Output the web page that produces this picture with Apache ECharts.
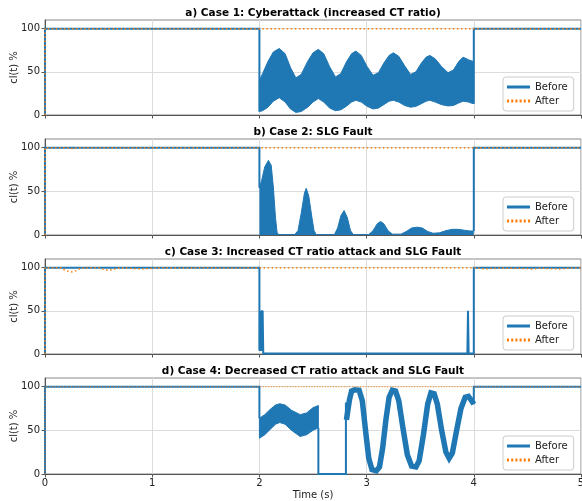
<!DOCTYPE html>
<html><head><meta charset="utf-8">
<script src="https://cdn.jsdelivr.net/npm/echarts@6/dist/echarts.min.js"></script>
<style>html,body{margin:0;padding:0;background:#fff}#c{width:582px;height:501px}</style>
</head><body><div id="c"></div>
<script>
// ---------- data ----------
const xTicks = [0, 1, 2, 3, 4, 5];
const yTicks = [0, 50, 100];
const panelTitles = [
  'a) Case 1: Cyberattack (increased CT ratio)',
  'b) Case 2: SLG Fault',
  'c) Case 3: Increased CT ratio attack and SLG Fault',
  'd) Case 4: Decreased CT ratio attack and SLG Fault'
];
const legendNames = ['Before', 'After'];
const yLabel = 'cl(t) %';
const xLabel = 'Time (s)';

// Case 1
const aPre_t = [0, 0, 2, 2];
const aPre_v = [0, 100, 100, 4];
const aBand_t  = [2.000, 2.030, 2.080, 2.130, 2.185, 2.240, 2.290, 2.340, 2.390, 2.450, 2.500, 2.550, 2.600, 2.655, 2.710, 2.760, 2.810, 2.860, 2.900, 2.950, 3.005, 3.060, 3.110, 3.160, 3.210, 3.250, 3.300, 3.355, 3.410, 3.460, 3.510, 3.555, 3.590, 3.640, 3.700, 3.760, 3.810, 3.860, 3.900, 3.950, 3.995];
const aBand_hi = [40, 48, 62, 73, 77, 71, 55, 43, 47, 62, 72, 76, 71, 56, 44, 48, 61, 71, 74, 69, 56, 46, 49, 60, 69, 72, 68, 57, 47, 50, 60, 67, 69, 65, 56, 49, 52, 62, 67, 64, 62];
const aBand_lo = [4, 5, 9, 16, 20, 15, 7, 3, 4, 9, 15, 19, 15, 8, 5, 6, 10, 15, 17, 15, 10, 7, 8, 12, 16, 17, 15, 11, 9, 10, 13, 16, 17, 15, 12, 10.5, 11, 14, 16, 15, 13];
const aPost_t = [4, 4, 5];
const aPost_v = [13, 100, 100];
const aAfter_t = [0, 0, 5];
const aAfter_v = [0, 100, 100];

// Case 2
const bPre_t = [0, 0, 2, 2];
const bPre_v = [0, 100, 100, 54];
const bPulse_t = [2.000, 2.020, 2.050, 2.084, 2.110, 2.130, 2.150, 2.165, 2.180, 2.330, 2.360, 2.390, 2.420, 2.437, 2.460, 2.490, 2.510, 2.530, 2.700, 2.730, 2.760, 2.790, 2.820, 2.850, 2.875, 3.020, 3.060, 3.100, 3.130, 3.160, 3.200, 3.240, 3.320, 3.370, 3.420, 3.470, 3.520, 3.570, 3.620, 3.680, 3.740, 3.800, 3.850, 3.910, 3.960, 4.000];
const bPulse_v = [54, 62, 78, 85.5, 80, 55, 20, 3, 0.5, 0.5, 5, 25, 48, 53.5, 45, 20, 5, 0.5, 0.5, 8, 22, 28, 20, 5, 0.5, 0.5, 5, 13, 15.5, 13, 5, 1, 1, 4, 8, 9, 8, 4, 2, 2.5, 5, 6.5, 6.5, 5.5, 4.7, 4.5];
const bPost_t = [4, 4, 5];
const bPost_v = [4.5, 100, 100];
const bAfter_t = [0, 0, 0.2, 0.25, 0.3, 5];
const bAfter_v = [0, 100, 100, 99, 100, 100];

// Case 3
const cPre_t = [0, 0, 2, 2];
const cPre_v = [0, 100, 100, 4];
const cBand_t  = [2.000, 2.015, 2.030];
const cBand_hi = [47, 50, 50];
const cBand_lo = [4, 4, 4];
const cLow_t = [2.030, 2.036, 3.940, 3.946, 3.952, 4.000, 4.000, 5];
const cLow_v = [50, 0.5, 0.5, 50, 0.5, 0.5, 100, 100];
const cAfter_t = [0, 0, 0.15, 0.18, 0.22, 0.26, 0.30, 0.33, 0.50, 0.53, 0.58, 0.63, 0.67, 0.70, 0.82, 0.90, 0.98, 1.05, 1.30, 1.50, 1.70, 2.00, 4.00, 4.10, 4.25, 4.50, 4.55, 4.60, 4.80, 4.90, 5.00];
const cAfter_v = [0, 100, 100, 97.5, 95.5, 95, 97, 99.5, 100, 98.5, 97, 97.5, 99, 100, 99, 98.5, 99, 100, 99.5, 100, 99.5, 100, 100, 98.5, 99.5, 99, 98, 99.5, 98.5, 99.5, 100];

// Case 4
const dPre_t = [0, 0, 2, 2];
const dPre_v = [0, 100, 100, 64];
const dBand_t  = [2.00, 2.05, 2.10, 2.15, 2.19, 2.24, 2.30, 2.38, 2.44, 2.50, 2.55];
const dBand_hi = [64, 68, 74, 79, 80.5, 79, 73, 68, 70, 76, 78.5];
const dBand_lo = [41, 45, 51, 57, 59, 57, 50, 43, 45, 50, 53];
const dGap_t = [2.55, 2.55, 2.807, 2.807, 2.812];
const dGap_v = [53, 0, 0, 82, 62];
const dOsc_t = [2.812, 2.840, 2.860, 2.890, 2.930, 2.960, 2.990, 3.020, 3.050, 3.090, 3.120, 3.150, 3.180, 3.210, 3.240, 3.270, 3.300, 3.340, 3.380, 3.420, 3.460, 3.490, 3.530, 3.570, 3.600, 3.630, 3.660, 3.700, 3.740, 3.770, 3.800, 3.840, 3.880, 3.920, 3.950, 3.980, 4.000];
const dOsc_v = [62, 85, 95, 96.5, 96, 84, 50, 18, 5, 3.5, 8, 30, 62, 88, 96, 95, 84, 52, 22, 9, 8, 15, 45, 80, 93, 92, 80, 50, 25, 18, 24, 50, 75, 88, 89, 84, 80];
const dPost_t = [4, 4, 5];
const dPost_v = [80, 100, 100];
const dAfter_t = [0, 0, 5];
const dAfter_v = [0, 100, 100];

// ---------- build ----------
const BLUE = '#1f77b4', ORANGE = '#ff7f0e';
const FONT = 'DejaVu Sans';
const gridTops = [20, 139, 259, 378];
const gridHeights = [95, 96, 95, 96];
const legendTops = [77, 197, 316, 436];

const pairs = (ts, vs) => ts.map((t, i) => [t, vs[i]]);

function stepLine(k, ts, vs, width, z) {
  return { type: 'line', name: 'Before', xAxisIndex: k, yAxisIndex: k, data: pairs(ts, vs),
    symbol: 'none', z: z || 2, lineStyle: { color: BLUE, width: width || 2, join: 'miter' }, itemStyle: { color: BLUE } };
}
function areaLine(k, ts, vs) {
  return { type: 'line', name: 'Before', xAxisIndex: k, yAxisIndex: k, data: pairs(ts, vs),
    symbol: 'none', z: 2, lineStyle: { color: BLUE, width: 1 }, itemStyle: { color: BLUE },
    areaStyle: { color: BLUE, opacity: 1, origin: 'start' } };
}
function band(k, ts, lo, hi) {
  return { type: 'custom', name: 'Before', xAxisIndex: k, yAxisIndex: k, z: 2, clip: true,
    data: ts.map((t, i) => [t, lo[i], hi[i]]), encode: { x: 0, y: [1, 2] },
    renderItem: function (params, api) {
      if (params.dataIndex !== 0) return null;
      const pts = [];
      for (let i = 0; i < ts.length; i++) pts.push(api.coord([ts[i], hi[i]]));
      for (let i = ts.length - 1; i >= 0; i--) pts.push(api.coord([ts[i], lo[i]]));
      return { type: 'polygon', shape: { points: pts }, style: { fill: BLUE, stroke: BLUE, lineWidth: 1 } };
    } };
}
function afterLine(k, ts, vs, width) {
  const w = width || 1.5;
  return { type: 'line', name: 'After', xAxisIndex: k, yAxisIndex: k, data: pairs(ts, vs),
    symbol: 'none', z: 4, lineStyle: { color: ORANGE, width: w, type: [w, w * 1.7] }, itemStyle: { color: ORANGE } };
}

const series = [
  stepLine(0, aPre_t, aPre_v), band(0, aBand_t, aBand_lo, aBand_hi), stepLine(0, aPost_t, aPost_v), afterLine(0, aAfter_t, aAfter_v),
  stepLine(1, bPre_t, bPre_v), areaLine(1, bPulse_t, bPulse_v), stepLine(1, bPost_t, bPost_v), afterLine(1, bAfter_t, bAfter_v),
  stepLine(2, cPre_t, cPre_v), band(2, cBand_t, cBand_lo, cBand_hi), stepLine(2, cLow_t, cLow_v), afterLine(2, cAfter_t, cAfter_v),
  stepLine(3, dPre_t, dPre_v), band(3, dBand_t, dBand_lo, dBand_hi), stepLine(3, dGap_t, dGap_v), stepLine(3, dOsc_t, dOsc_v, 5.5), stepLine(3, dPost_t, dPost_v), afterLine(3, dAfter_t, dAfter_v, 1)
];

const grids = [], xAxes = [], yAxes = [], titles = [], legends = [];
const beforeIcon = 'path://M0,0H23V3H0Z';
const afterIcon = 'path://M0,0h2v3h-2zM4,0h2v3h-2zM8,0h2v3h-2zM12,0h2v3h-2zM16,0h2v3h-2zM20,0h2v3h-2z';
for (let k = 0; k < 4; k++) {
  grids.push({ left: 45, right: 1, top: gridTops[k], height: gridHeights[k], containLabel: false, outerBoundsMode: 'none',
    show: true, borderColor: '#888', borderWidth: 1, backgroundColor: 'transparent' });
  xAxes.push({ type: 'value', gridIndex: k, min: xTicks[0], max: xTicks[xTicks.length - 1], interval: 1,
    axisLine: { show: true, onZero: false, lineStyle: { color: '#555', width: 1 } },
    axisTick: { show: true, inside: false, length: 3.5, lineStyle: { color: '#555' } },
    axisLabel: { show: k === 3, margin: 4, color: '#222', fontSize: 10, fontFamily: FONT },
    splitLine: { show: true, lineStyle: { color: '#dcdcdc', width: 1 } },
    name: k === 3 ? xLabel : '', nameLocation: 'middle', nameGap: 16, nameMoveOverlap: false,
    nameTextStyle: { color: '#222', fontSize: 10, fontFamily: FONT } });
  yAxes.push({ type: 'value', gridIndex: k, min: 0, max: 110, interval: 50,
    axisLine: { show: true, lineStyle: { color: '#555', width: 1 } },
    axisTick: { show: true, length: 3.5, customValues: yTicks, lineStyle: { color: '#555' } },
    axisLabel: { margin: 5, color: '#222', fontSize: 10, fontFamily: FONT, customValues: yTicks },
    splitLine: { show: true, lineStyle: { color: '#dcdcdc', width: 1 } },
    name: yLabel, nameLocation: 'middle', nameGap: 26, nameMoveOverlap: false,
    nameTextStyle: { color: '#222', fontSize: 10, fontFamily: FONT } });
  titles.push({ text: panelTitles[k], left: 313, top: gridTops[k] - 12, textAlign: 'center', padding: 0,
    textStyle: { fontSize: 10.5, fontWeight: 'bold', color: '#000', fontFamily: FONT } });
  legends.push({ orient: 'vertical', left: 503, top: legendTops[k], padding: [4, 6, 4, 4],
    itemWidth: 23, itemHeight: 3, itemGap: 2, symbolKeepAspect: false,
    backgroundColor: 'rgba(255,255,255,0.85)', borderColor: '#ccc', borderWidth: 1, borderRadius: 3,
    textStyle: { fontSize: 10, fontFamily: FONT, color: '#222', lineHeight: 12 },
    data: [
      { name: legendNames[0], icon: beforeIcon, itemStyle: { color: BLUE } },
      { name: legendNames[1], icon: afterIcon, itemStyle: { color: ORANGE } }
    ] });
}

const chart = echarts.init(document.getElementById('c'), null, { renderer: 'canvas' });
chart.setOption({
  animation: false,
  backgroundColor: '#fff',
  title: titles, legend: legends, grid: grids, xAxis: xAxes, yAxis: yAxes, series: series
});
</script></body></html>
